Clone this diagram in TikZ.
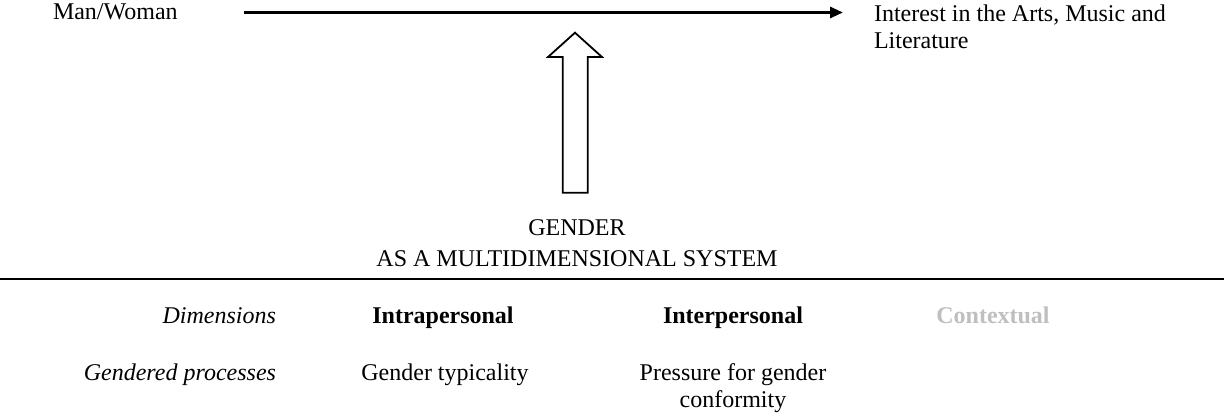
\documentclass[tikz,border=0pt]{standalone}
\usepackage{fontspec}
\setmainfont{Liberation Serif}
\setsansfont{Liberation Serif}
\usetikzlibrary{arrows.meta}
\definecolor{dimgrey}{RGB}{191,191,191}
\newcommand{\figfont}{\fontsize{24}{27}\selectfont\rmfamily}
\begin{document}
\begin{tikzpicture}[x=1pt,y=-1pt,
  every node/.style={inner sep=0pt,outer sep=0pt,font=\figfont},
  dimlabel/.style={font=\figfont\itshape,anchor=base east},
  dimhead/.style={font=\figfont\bfseries,anchor=base},
  entry/.style={anchor=base},
  mainarrow/.style={line width=3pt,-{Triangle[length=13pt,width=11pt]}},
  blockarrow/.style={line width=1.8pt,line join=miter,fill=white}]
\useasboundingbox (0,0) rectangle (1224,417);

% top row: the relation between sex and interest
\node[anchor=base west] (man) at (53,20) {Man/Woman};
\node[anchor=north west,align=left] (interest) at (874,4.5)
  {Interest in the Arts, Music and\\Literature};
\draw[mainarrow] ([xshift=66pt,yshift=7.5pt]man.base east) -- ([xshift=-31pt,yshift=-8pt]interest.north west);

% gender as the moderating system
\node[anchor=north,align=center] (gender) at (577,220)
  {GENDER\\[4pt]AS A MULTIDIMENSIONAL SYSTEM};
\draw[blockarrow] (562.7,192.7) -- (562.7,57) -- (548,57) -- (575,32.7)
  -- (602,57) -- (587.7,57) -- (587.7,192.7) -- cycle;

% separating rule
\draw[line width=2pt] (0,279) -- (1224,279);

% dimensions table
\node[dimlabel] (dims) at (276,323) {Dimensions};
\node[dimhead] (intra) at (443,323) {Intrapersonal};
\node[dimhead] (inter) at (733,323) {Interpersonal};
\node[dimhead,text=dimgrey] (context) at (993,323) {Contextual};

\node[dimlabel] (procs) at (276,380) {Gendered processes};
\node[entry] (typical) at (445,380) {Gender typicality};
\node[anchor=north,align=center] (pressure) at (733,363.5)
  {Pressure for gender\\conformity};
\end{tikzpicture}
\end{document}
